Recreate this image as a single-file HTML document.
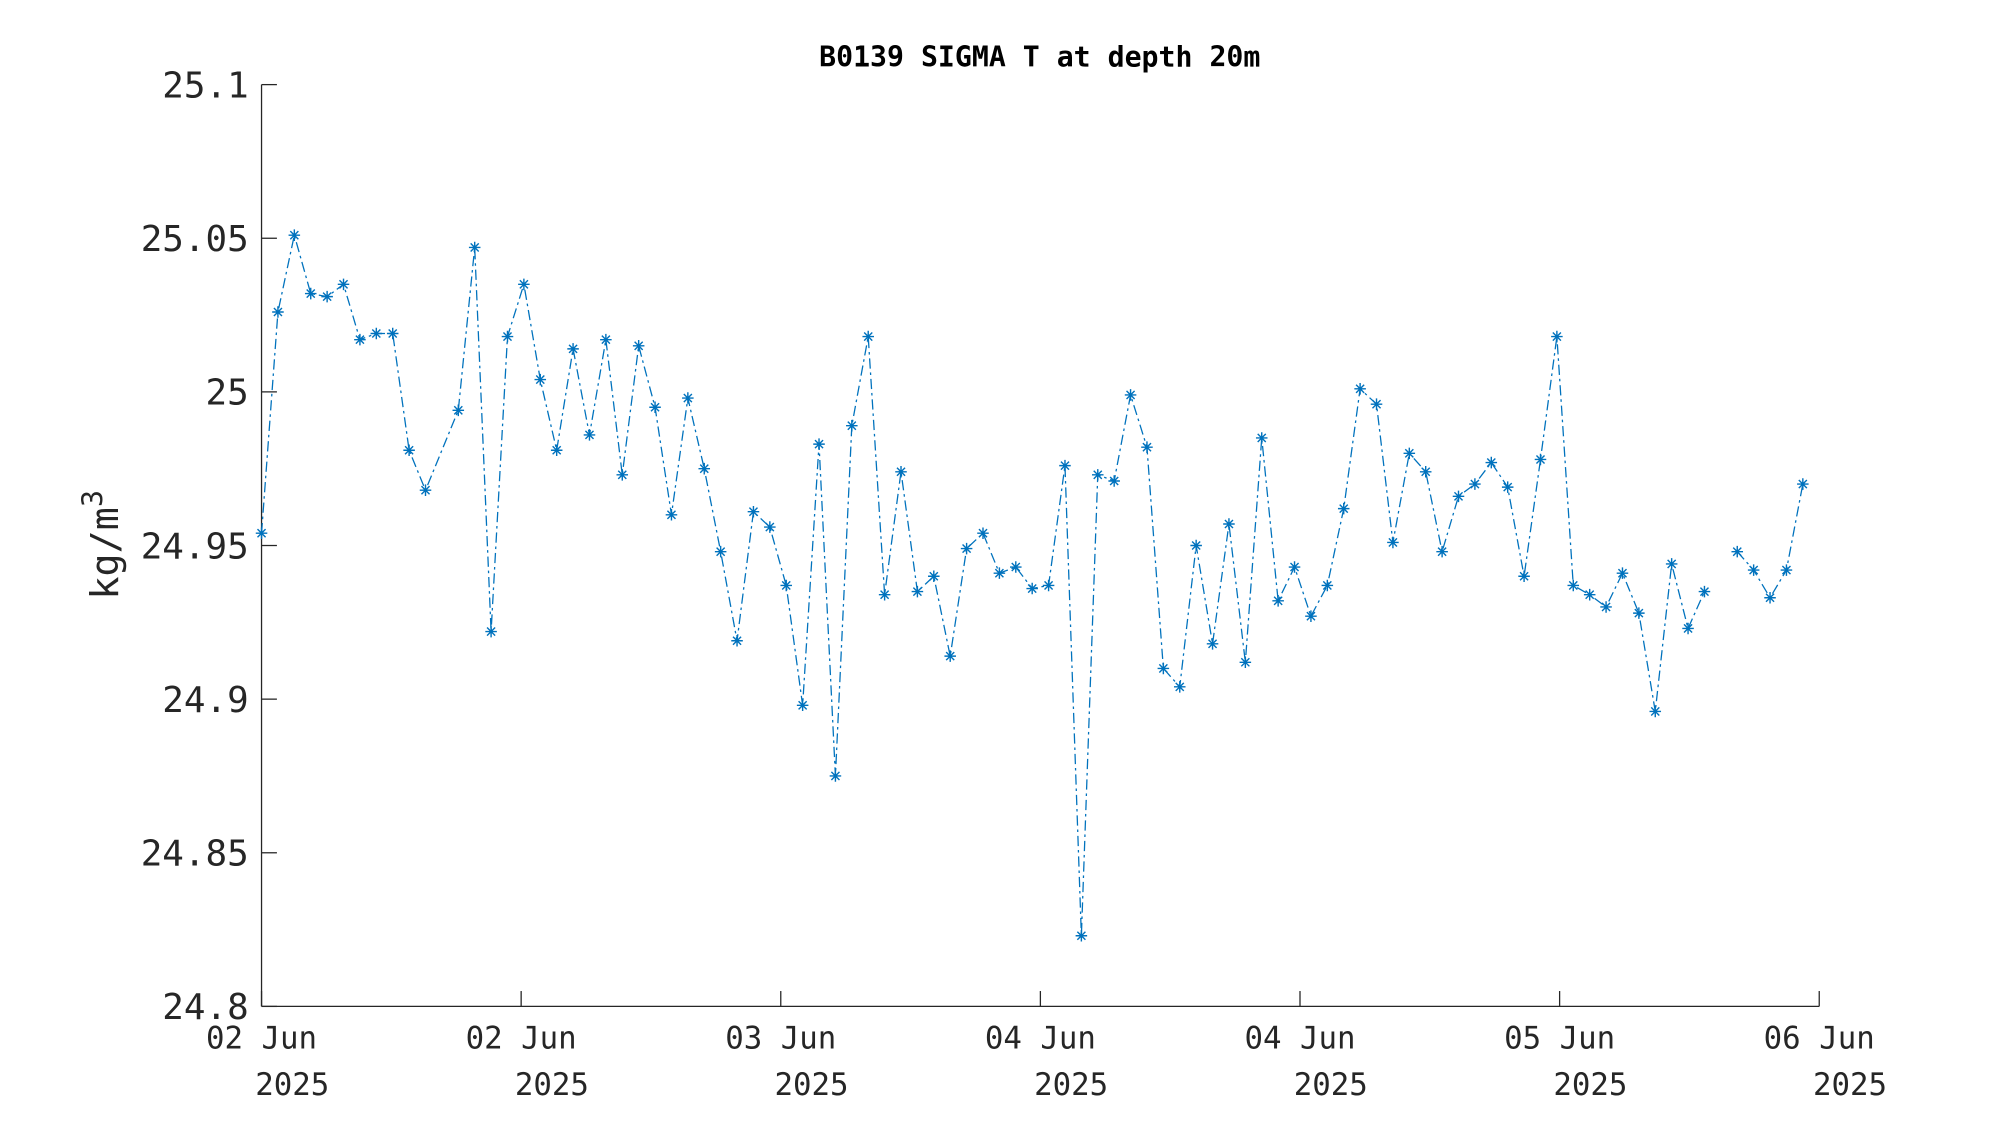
<!DOCTYPE html>
<html><head><meta charset="utf-8"><style>
html,body{margin:0;padding:0;background:#fff;}
svg{display:block;}
text{font-family:"DejaVu Sans Mono","Liberation Mono",monospace;fill:#262626;}
</style></head><body>
<svg id="chart" width="2000" height="1125" viewBox="0 0 1560 877.5" xmlns="http://www.w3.org/2000/svg">
<text x="811" y="52" text-anchor="middle" font-size="22" font-weight="bold" style="fill:#000">B0139 SIGMA T at depth 20m</text>
<text transform="translate(92,425) rotate(-90)" text-anchor="middle" font-size="30">kg/m<tspan dy="-12" font-size="22">3</tspan></text>
<g id="axes"></g>
<g id="series"></g>
</svg>
<script>
const sampleIndex = [0,1,2,3,4,5,6,7,8,9,10,12,13,14,15,16,17,18,19,20,21,22,23,24,25,26,27,28,29,30,31,32,33,34,35,36,37,38,39,40,41,42,43,44,45,46,47,48,49,50,51,52,53,54,55,56,57,58,59,60,61,62,63,64,65,66,67,68,69,70,71,72,73,74,75,76,77,78,79,80,81,82,83,84,85,86,87,88,89,90,91,92,93,94,95];
const sigmaValues = [24.954,25.026,25.051,25.032,25.031,25.035,25.017,25.019,25.019,24.981,24.968,24.994,25.047,24.922,25.018,25.035,25.004,24.981,25.014,24.986,25.017,24.973,25.015,24.995,24.960,24.998,24.975,24.948,24.919,24.961,24.956,24.937,24.898,24.983,24.875,24.989,25.018,24.934,24.974,24.935,24.940,24.914,24.949,24.954,24.941,24.943,24.936,24.937,24.976,24.823,24.973,24.971,24.999,24.982,24.910,24.904,24.950,24.918,24.957,24.912,24.985,24.932,24.943,24.927,24.937,24.962,25.001,24.996,24.951,24.980,24.974,24.948,24.966,24.970,24.977,24.969,24.940,24.978,25.018,24.937,24.934,24.930,24.941,24.928,24.896,24.944,24.923,24.935,null,24.948,24.942,24.933,24.942,24.970];
const yTicks = [24.8,24.85,24.9,24.95,25,25.05,25.1];
const yTickLabels = ["24.8","24.85","24.9","24.95","25","25.05","25.1"];
const xTickFractions = [0,1/6,2/6,3/6,4/6,5/6,1];
const xTickLabels = ["02 Jun","02 Jun","03 Jun","04 Jun","04 Jun","05 Jun","06 Jun"];
const X0=204,X1=1419,Y0=785,Y1=66,IMAX=95;
const yMin=24.8,yMax=25.1;
const xs=i=>X0+(i/IMAX)*(X1-X0);
const ys=v=>Y0-(v-yMin)/(yMax-yMin)*(Y0-Y1);
const NS="http://www.w3.org/2000/svg";
function mk(t,a){const e=document.createElementNS(NS,t);for(const k in a)e.setAttribute(k,a[k]);return e;}
const axes=document.getElementById('axes');
const ya=mk('line',{x1:X0,y1:Y0,x2:X0,y2:Y1,stroke:'#262626','stroke-width':1});


axes.appendChild(ya);
const xa=mk('line',{x1:X0,y1:Y0,x2:X1,y2:Y0,stroke:'#262626','stroke-width':1});


axes.appendChild(xa);
yTicks.forEach((v,k)=>{
 const y=ys(v);
 const t=mk('line',{x1:X0,y1:y,x2:X0+12,y2:y,stroke:'#262626','stroke-width':1});
 
 
 axes.appendChild(t);
 const l=mk('text',{x:X0-10,y:y+10,'text-anchor':'end','font-size':28});
 
 
 l.textContent=yTickLabels[k];axes.appendChild(l);
});
xTickFractions.forEach((f,k)=>{
 const x=X0+f*(X1-X0);
 const t=mk('line',{x1:x,y1:Y0,x2:x,y2:Y0-12,stroke:'#262626','stroke-width':1});
 
 
 axes.appendChild(t);
 const l=mk('text',{x:x,y:Y0+33,'text-anchor':'middle','font-size':24});
 
 
 l.textContent=xTickLabels[k];axes.appendChild(l);
 const l2=mk('text',{x:x+24,y:Y0+69,'text-anchor':'middle','font-size':24});
 
 
 l2.textContent='2025';axes.appendChild(l2);
});
const series=document.getElementById('series');
let d='',pen=false;
sigmaValues.forEach((v,k)=>{
 if(v===null){pen=false;return;}
 d+=(pen?'L':'M')+xs(sampleIndex[k]).toFixed(2)+' '+ys(v).toFixed(2);pen=true;
});
const path=mk('path',{d:d,fill:'none',stroke:'#0072BD','stroke-width':1,'stroke-dasharray':'8 3 2 3'});


series.appendChild(path);
sigmaValues.forEach((v,k)=>{
 if(v===null)return;
 const x=xs(sampleIndex[k]),y=ys(v),r=4.5,q=r*0.7;
 const m=mk('path',{d:`M${x-r} ${y}L${x+r} ${y}M${x} ${y-r}L${x} ${y+r}M${x-q} ${y-q}L${x+q} ${y+q}M${x-q} ${y+q}L${x+q} ${y-q}`,stroke:'#0072BD','stroke-width':1.1,fill:'none'});
 
 
 series.appendChild(m);
});
</script>
</body></html>
